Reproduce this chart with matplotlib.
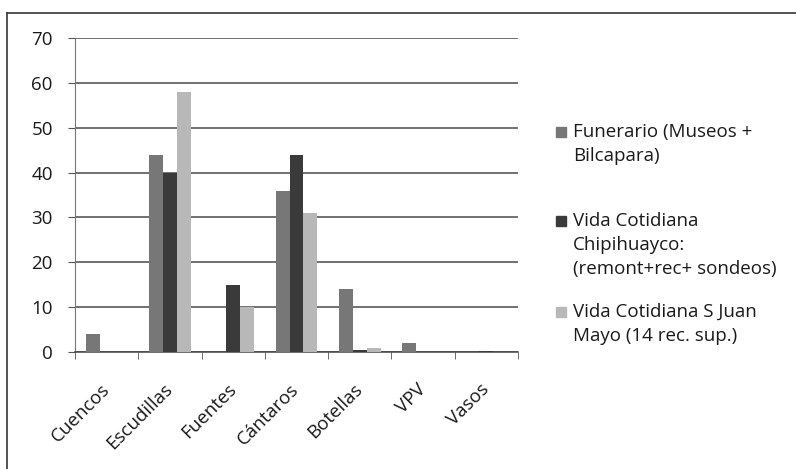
import matplotlib
matplotlib.use("Agg")
import matplotlib.pyplot as plt
import numpy as np
from matplotlib.patches import Rectangle
from matplotlib.lines import Line2D

categories = ["Cuencos", "Escudillas", "Fuentes", "Cántaros", "Botellas", "VPV", "Vasos"]
funerario = [4, 44, 0, 36, 14, 2, 0]
chipihuayco = [0, 40, 15, 44, 0.5, 0, 0.3]
sjuan = [0, 58, 10, 31, 1, 0, 0]
series_lines = [["Funerario (Museos +", "Bilcapara)"],
                ["Vida Cotidiana", "Chipihuayco:", "(remont+rec+ sondeos)"],
                ["Vida Cotidiana S Juan", "Mayo (14 rec. sup.)"]]
yticks = [0, 10, 20, 30, 40, 50, 60, 70]

plt.rcParams['font.family'] = ['Open Sans', 'DejaVu Sans']
TXT = '#1a1a1a'

W, H = 796, 469
fig = plt.figure(figsize=(W / 100, H / 100), dpi=100)

# outer chart frame (only top and left edges visible in the scan)
fig.add_artist(Line2D([7 / W, 7 / W], [0, 1 - 13 / H], transform=fig.transFigure,
                      color='#444444', lw=1.3))
fig.add_artist(Line2D([7 / W, 1], [1 - 13 / H, 1 - 13 / H], transform=fig.transFigure,
                      color='#444444', lw=1.3))

ax = fig.add_axes([75 / W, 1 - 352 / H, 443 / W, 314 / H])

x = np.arange(len(categories))
w = 0.22
colors = ['#777777', '#3a3a3a', '#b8b8b8']
data = [funerario, chipihuayco, sjuan]
for i, (vals, c) in enumerate(zip(data, colors)):
    ax.bar(x + (i - 1) * w, vals, width=w, color=c, zorder=3)

ax.set_xlim(-0.5, len(categories) - 0.5)
ax.set_ylim(0, 70)
ax.set_yticks(yticks)
ax.set_yticklabels([str(v) for v in yticks], fontsize=13.5, color=TXT)
ax.yaxis.grid(True, color='#4a4a4a', lw=1.1, zorder=0)
ax.set_xticks(x)
ax.set_xticklabels(categories, rotation=45, ha='right', va='center',
                   rotation_mode='anchor', fontsize=13.5, color=TXT)
ax.tick_params(axis='x', length=0, pad=25)
ax.set_xticks(np.arange(-0.5, len(categories), 1.0), minor=True)
ax.tick_params(axis='x', which='minor', length=5, color='#555555')
ax.tick_params(axis='y', length=5, color='#555555', pad=11)
for s in ['top', 'right']:
    ax.spines[s].set_visible(False)
ax.spines['left'].set_color('#777777')
ax.spines['bottom'].set_color('#444444')
ax.spines['bottom'].set_linewidth(1.1)

# legend (drawn manually to align markers with the first text line)
first_line_y = [132, 221, 312]
line_gap = 24
for lines, c, y0 in zip(series_lines, colors, first_line_y):
    fig.patches.append(Rectangle((556 / W, 1 - (y0 + 5) / H), 10 / W, 10 / H,
                                 transform=fig.transFigure, color=c))
    for k, t in enumerate(lines):
        fig.text(573 / W, 1 - (y0 + k * line_gap) / H, t, fontsize=13.5,
                 color=TXT, va='center', ha='left')

fig.savefig("out.png", dpi=100)
